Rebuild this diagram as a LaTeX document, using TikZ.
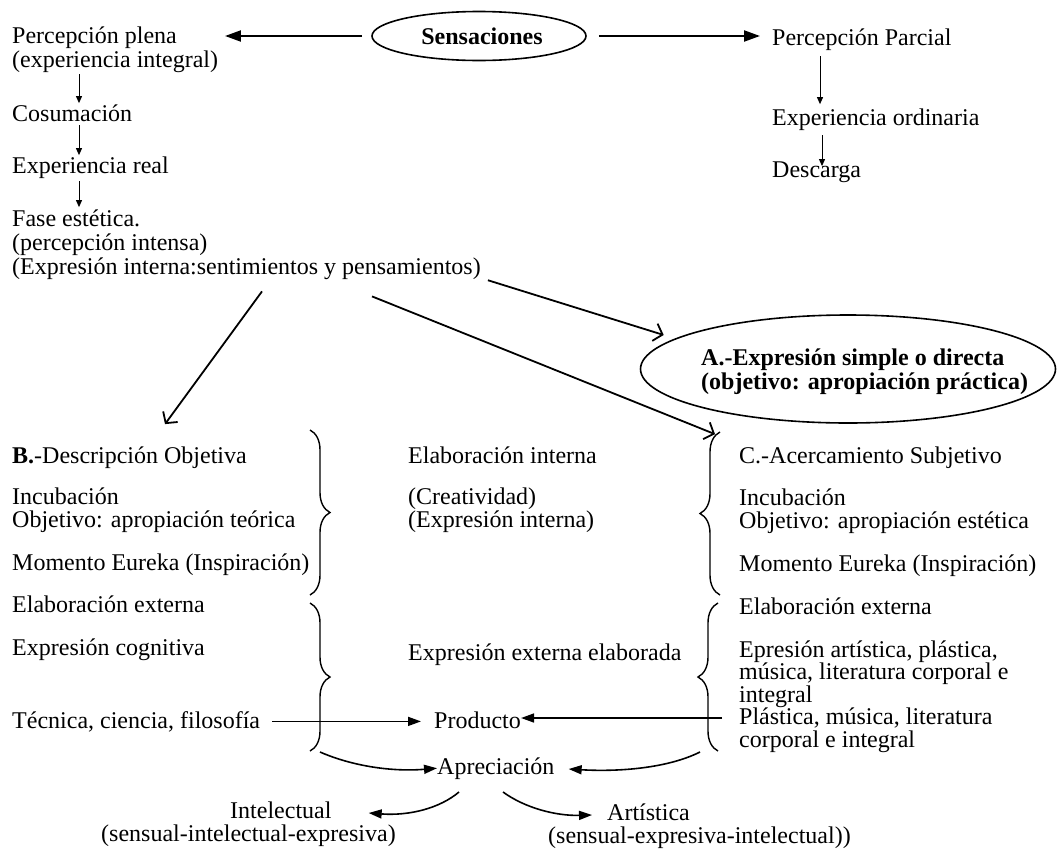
\documentclass[tikz,border=0pt]{standalone}
\usepackage{fontspec}
\setmainfont{Liberation Serif}
\usetikzlibrary{arrows.meta,calc,decorations.pathreplacing,shapes.geometric}
\newcommand\txtsize{\fontsize{24}{24}\selectfont}
\begin{document}
\begin{tikzpicture}[x=1pt,y=-1pt,
  txt/.style={anchor=base west, inner sep=0pt, font=\txtsize},
  txtb/.style={anchor=base west, inner sep=0pt, font=\txtsize\bfseries},
  bigarrow/.style={line width=2.2pt, -{Triangle[length=16pt,width=11pt]}},
  smallarrow/.style={line width=0.9pt, -{Triangle[length=7pt,width=6pt]}},
  openarrow/.style={line width=1.8pt, -{Straight Barb[length=8pt,width=18pt]}},
  midarrow/.style={line width=1.6pt, -{Triangle[length=13pt,width=9pt]}},
  bracestyle/.style={line width=1.4pt, decorate, decoration={brace, amplitude=20pt}},
  oval/.style={ellipse, draw, line width=1.6pt, inner sep=0pt}
]
\useasboundingbox (0,0) rectangle (1060,849);

% top
\node[oval, minimum width=214pt, minimum height=49pt] (sens) at (479,36) {};
\node[txtb, anchor=base] (senstxt) at (482,44) {Sensaciones};
\node[txt] (pplena) at (12,43) {Percepción plena};
\node[txt] (pinteg) at (12,67) {(experiencia integral)};
\node[txt] (cosum) at (12,121) {Cosumación};
\node[txt] (expreal) at (12,173) {Experiencia real};
\node[txt] (fase) at (12,226) {Fase estética.};
\node[txt] (pintensa) at (12,250) {(percepción intensa)};
\node[txt] (expint) at (12,274) {(Expresión interna:sentimientos y pensamientos)};

\node[txt] (pparcial) at (772,45) {Percepción Parcial};
\node[txt] (expord) at (772,125) {Experiencia ordinaria};
\node[txt] (descarga) at (772,177) {Descarga};

\draw[bigarrow, shorten <=9pt, shorten >=48pt] (sens.west) -- (sens.west -| pplena.east);
\draw[bigarrow, shorten <=12pt, shorten >=12pt] (sens.east) -- (sens.east -| pparcial.west);

\draw[smallarrow] ($(pinteg.south west)+(67,2)$) -- ($(cosum.north west)+(67,-1)$);
\draw[smallarrow] ($(cosum.south west)+(67,4)$) -- ($(expreal.north west)+(67,-1)$);
\draw[smallarrow] ($(expreal.south west)+(67,3)$) -- ($(fase.north west)+(67,-2)$);
\draw[smallarrow] ($(pparcial.south west)+(48,6)$) -- ($(expord.north west)+(48,-4)$);
\draw[smallarrow] ($(expord.south west)+(50,5)$) -- ($(descarga.north west)+(50,5)$);

% ellipse A
\node[oval, minimum width=415pt, minimum height=108pt] (A) at (848,369) {};
\node[txtb] (atxt1) at (701,365) {A.-Expresión simple o directa};
\node[txtb] (atxt2) at (701,389) {(objetivo: apropiación práctica)};

% column B
\node[txt] (bdesc) at (12,463) {\textbf{B.}-Descripción Objetiva};
\node[txt] (binc) at (12,504) {Incubación};
\node[txt] (bobj) at (12,527) {Objetivo: apropiación teórica};
\node[txt] (bmom) at (12,570) {Momento Eureka (Inspiración)};
\node[txt] (belab) at (12,612) {Elaboración externa};
\node[txt] (bcog) at (12,655) {Expresión cognitiva};
\node[txt] (btec) at (12,728) {Técnica, ciencia, filosofía};

% middle
\node[txt] (melab) at (408,463) {Elaboración interna};
\node[txt] (mcrea) at (408,504) {(Creatividad)};
\node[txt] (mexpi) at (408,527) {(Expresión interna)};
\node[txt] (mexpe) at (408,660) {Expresión externa elaborada};
\node[txt] (prod) at (434,728) {Producto};
\node[txt] (apr) at (437,774) {Apreciación};
\node[txt] (intel) at (230,818) {Intelectual};
\node[txt] (intel2) at (101,841) {(sensual-intelectual-expresiva)};
\node[txt] (art) at (607,820) {Artística};
\node[txt] (art2) at (548,843) {(sensual-expresiva-intelectual))};

% column C
\node[txt] (cacer) at (739,463) {C.-Acercamiento Subjetivo};
\node[txt] (cinc) at (739,505) {Incubación};
\node[txt] (cobj) at (739,528) {Objetivo: apropiación estética};
\node[txt] (cmom) at (739,571) {Momento Eureka (Inspiración)};
\node[txt] (celab) at (739,614) {Elaboración externa};
\node[txt] (cepr) at (739,657) {Epresión artística, plástica,};
\node[txt] (cmus) at (739,679.5) {música, literatura corporal e};
\node[txt] (cint) at (739,702) {integral};
\node[txt] (cplas) at (739,724.5) {Plástica, música, literatura};
\node[txt] (ccorp) at (739,747) {corporal e integral};

% diagonal arrows
\draw[openarrow] ($(expint.east)+(7,12)$) -- ($(A.west)+(24,-34)$);
\draw[openarrow] ($(expint.south west)+(250,12)$) -- ($(bdesc.north west)+(153,-22)$);
\draw[openarrow] ($(expint.south west)+(360,17)$) -- ($(cacer.north west)+(-24,-12)$);

% braces
\draw[bracestyle] (310,430) -- (310,595);
\draw[bracestyle] (310,603) -- (310,751);
\draw[bracestyle] (720,595) -- (720,432);
\draw[bracestyle] (718,751) -- (718,603);

% bottom arrows
\draw[midarrow, shorten <=12pt, shorten >=13pt] (btec.east) -- (btec.east -| prod.west);
\coordinate (rstart) at ($(cplas.west)+(-17,0)$);
\draw[midarrow] (rstart) -- (rstart -| prod.east);
\coordinate (lbb) at (320,752);
\coordinate (rbb) at (700,752);
\draw[midarrow] (lbb) .. controls (352,766) and (392,772) .. (apr.west);
\draw[midarrow, shorten >=14pt] (rbb) .. controls (668,768) and (620,772) .. (apr.east);
\draw[midarrow] ($(apr.base west)+(22,18)$) .. controls (440,808) and (410,816) .. ($(intel.base east)+(37,-5)$);
\draw[midarrow] ($(apr.base west)+(66,18)$) .. controls (525,808) and (556,816) .. ($(art.base west)+(-15,-5)$);
\end{tikzpicture}
\end{document}
